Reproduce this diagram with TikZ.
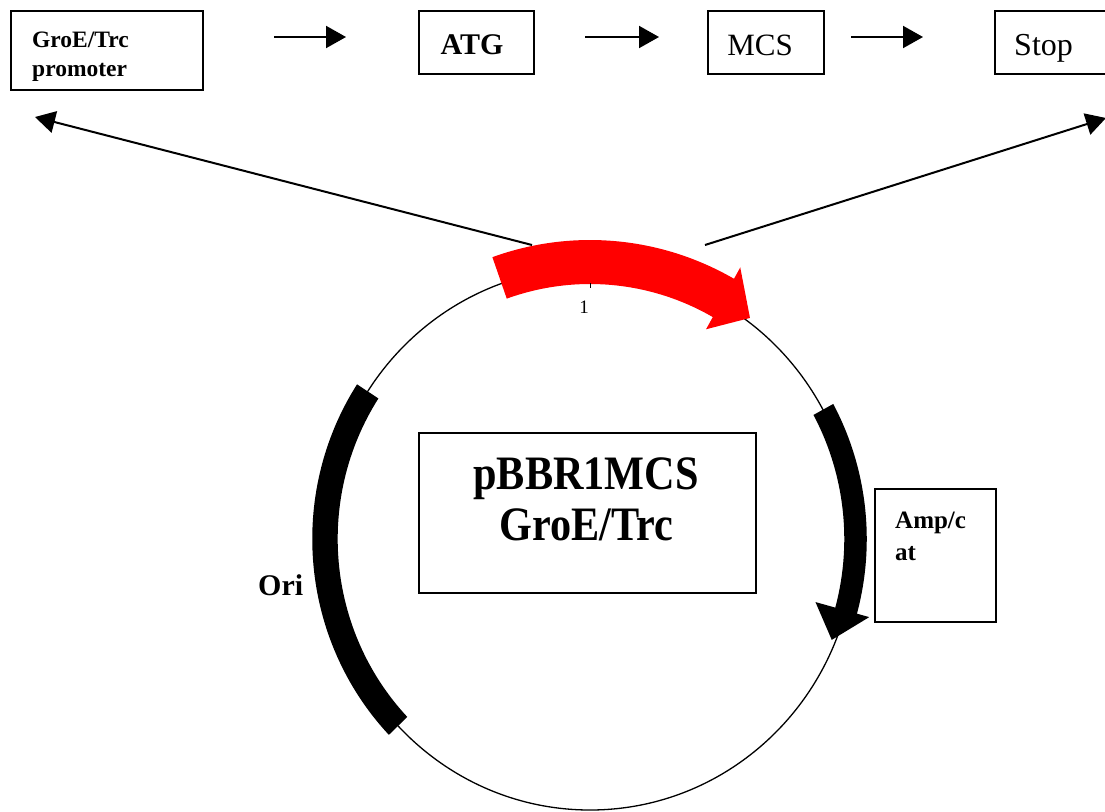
\documentclass[tikz,border=0pt]{standalone}
\usepackage{fontspec}
\setmainfont{Liberation Serif}
\usetikzlibrary{arrows.meta}
\begin{document}
\begin{tikzpicture}[x=1pt,y=1pt,
  box/.style={draw, line width=2pt, inner sep=0pt},
  thinbox/.style={draw, line width=1.5pt, inner sep=0pt},
  arr/.style={line width=2pt, -{Triangle[length=20pt,width=22pt]}},
  thinline/.style={line width=1.3pt},
  lbl/.style={inner sep=0pt},
]
\useasboundingbox (0,0) rectangle (1105,-811);

% top row boxes
\node[box, minimum width=192pt, minimum height=79pt, anchor=north west] (prom) at (10,-10) {};
\node[lbl, anchor=base west, font=\fontsize{23.5}{26}\selectfont\bfseries] (promA) at (32,-47) {GroE/Trc};
\node[lbl, anchor=base west, font=\fontsize{23.5}{26}\selectfont\bfseries] (promB) at (32,-76) {promoter};

\node[box, minimum width=115pt, minimum height=63pt, anchor=north west] (atg) at (418,-10) {};
\node[lbl, anchor=base, font=\fontsize{30}{34}\selectfont\bfseries] (atgt) at (472,-54) {ATG};

\node[box, minimum width=116pt, minimum height=63pt, anchor=north west] (mcs) at (707,-10) {};
\node[lbl, anchor=base, font=\fontsize{31}{34}\selectfont] (mcst) at (760,-55) {MCS};

\node[box, minimum width=130pt, minimum height=63pt, anchor=north west] (stop) at (994,-10) {};
\node[lbl, anchor=base west, font=\fontsize{32}{34}\selectfont] (stopt) at (1014,-55) {Stop};

% horizontal arrows
\coordinate (a1s) at (274,-37); \coordinate (a1e) at (346,-37);
\coordinate (a2s) at (585,-37); \coordinate (a2e) at (659,-37);
\coordinate (a3s) at (851,-37); \coordinate (a3e) at (923,-37);
\draw[arr] (a1s) -- (a1e);
\draw[arr] (a2s) -- (a2e);
\draw[arr] (a3s) -- (a3e);

% diagonal arrows
\coordinate (dls) at (532,-245); \coordinate (dle) at (35,-117);
\coordinate (drs) at (705,-245); \coordinate (dre) at (1106,-118);
\draw[arr] (dls) -- (dle);
\draw[arr] (drs) -- (dre);

% plasmid
\begin{scope}[shift={(590,-539)}, xscale=0.978]
\draw[thinline] (0,0) circle[radius=271];
\fill[red] (109.5:299) arc[start angle=109.5, end angle=60.5, radius=299]
  -- (60.5:312) -- (53.5:275) -- (60.5:241) -- (60.5:255)
  arc[start angle=60.5, end angle=109.5, radius=255] -- cycle;
\fill[black] (147:284) arc[start angle=147, end angle=223.6, radius=284]
  -- (223.6:258) arc[start angle=223.6, end angle=147, radius=258] -- cycle;
\fill[black] (28.5:283) arc[start angle=28.5, end angle=-15.3, radius=283]
  -- (-15.3:296) -- (-22.2:267) -- (-15.3:239) -- (-15.3:260)
  arc[start angle=-15.3, end angle=28.5, radius=260] -- cycle;
\draw[line width=1pt] (90:256) -- (90:251);
\end{scope}
\node[lbl, anchor=base, font=\fontsize{19}{22}\selectfont] (one) at (584,-313) {1};

% title box
\node[thinbox, minimum width=337pt, minimum height=160pt, anchor=north west] (title) at (418,-432) {};
\node[lbl, anchor=base, font=\fontsize{48}{52}\selectfont\bfseries] (titA) at (586,-489) {\scalebox{0.88}[1]{pBBR1MCS}};
\node[lbl, anchor=base, font=\fontsize{48}{52}\selectfont\bfseries] (titB) at (586,-540) {\scalebox{0.88}[1]{GroE/Trc}};

% Amp/cat box
\node[thinbox, minimum width=121pt, minimum height=133pt, anchor=north west] (amp) at (874,-488) {};
\node[lbl, anchor=base west, font=\fontsize{25}{28}\selectfont\bfseries] (ampA) at (895,-528) {Amp/c};
\node[lbl, anchor=base west, font=\fontsize{25}{28}\selectfont\bfseries] (ampB) at (895,-560) {at};

% Ori label
\node[lbl, anchor=base west, font=\fontsize{30}{34}\selectfont\bfseries] (ori) at (258,-595) {Ori};
\end{tikzpicture}
\end{document}
